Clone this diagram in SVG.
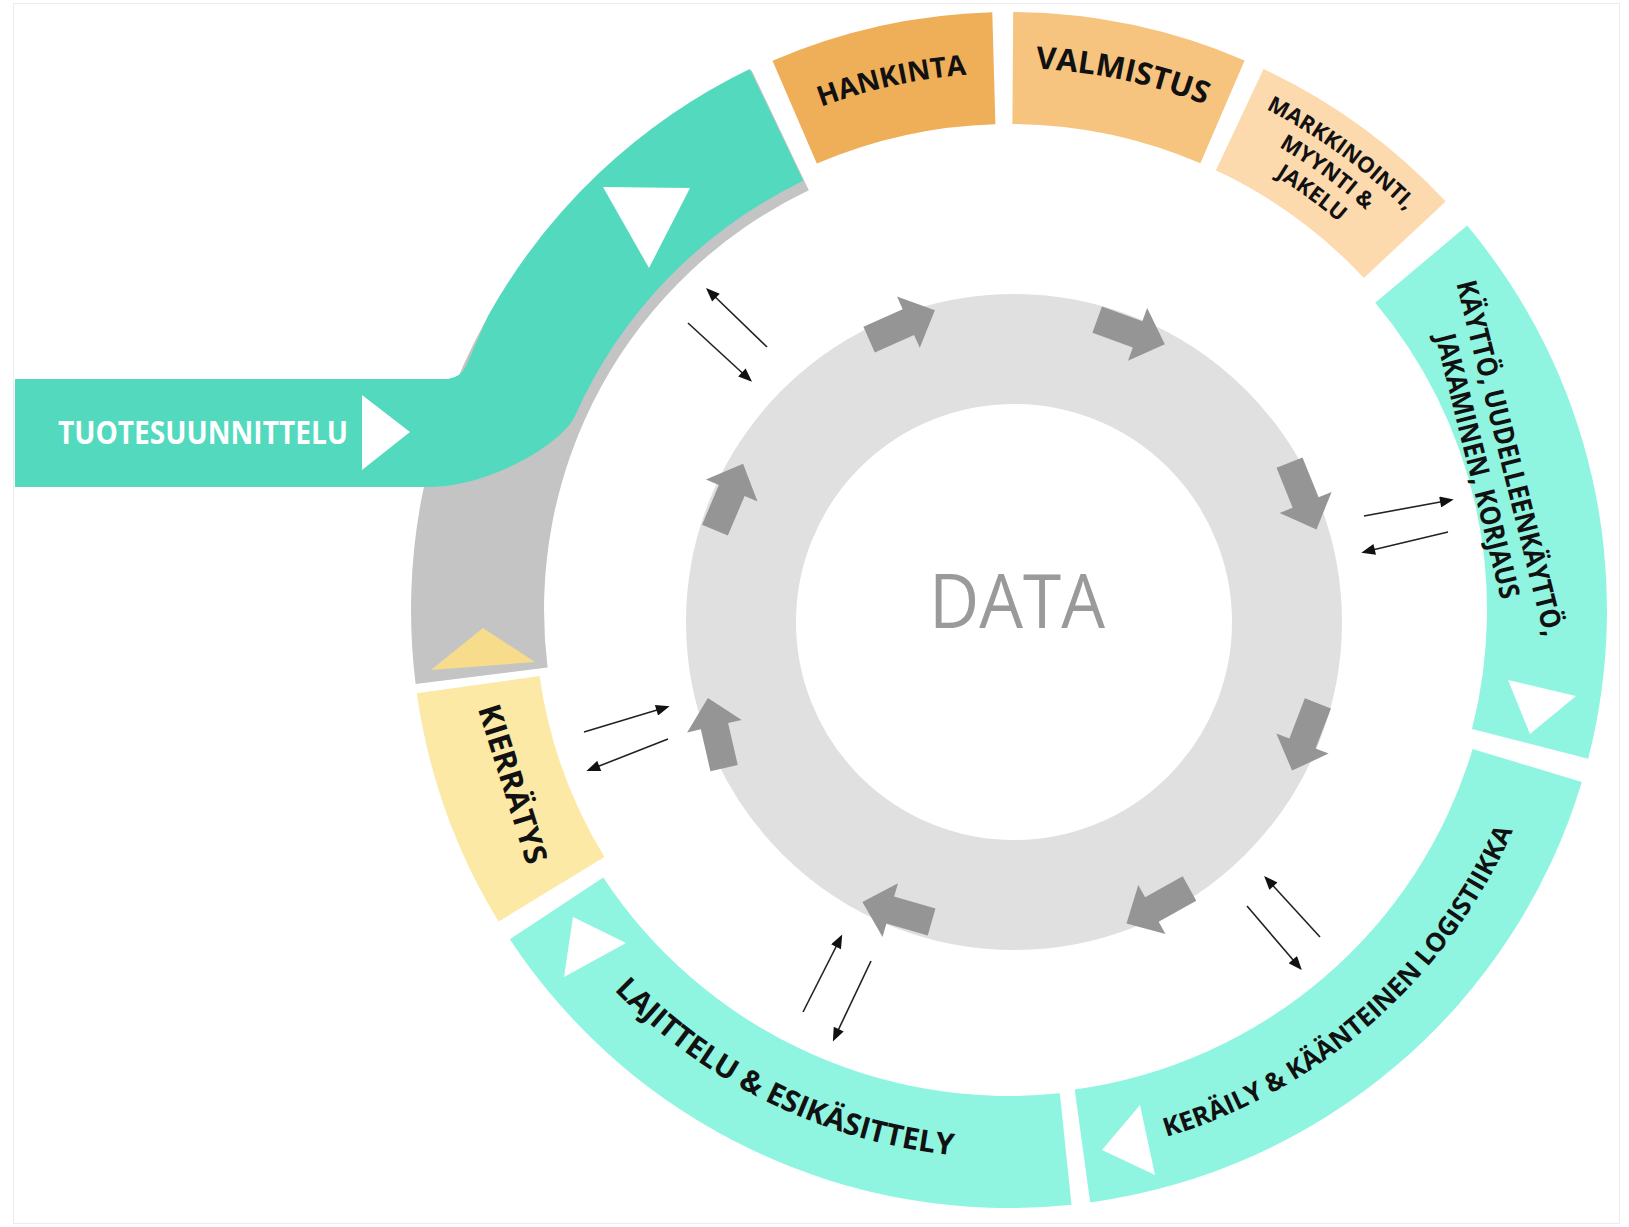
<svg xmlns="http://www.w3.org/2000/svg" width="1629" height="1227" viewBox="0 0 1629 1227">
<defs>
<style>
.lbl{font-family:"Open Sans","Liberation Sans",Arial,sans-serif;font-weight:700;fill:#111}
.aqua{fill:#8FF5E0}
.tri{fill:#fff}
.dbl{fill:none;stroke:#222;stroke-width:1.6;marker-end:url(#ah)}
.flow{fill:#959595}
</style>
<marker id="ah" viewBox="0 0 10 8" refX="8" refY="4" markerWidth="15" markerHeight="11" markerUnits="userSpaceOnUse" orient="auto"><path d="M0,0 L10,4 L0,8 z" fill="#111"/></marker>
<polygon id="blk" points="-36,-14 7,-14 7,-28 36,0 7,28 7,14 -36,14"/>
<path id="tp-hank" d="M 790.6,119.4 A 537 537 0 0 1 999.6,73.1"/>
<path id="tp-valm" d="M 1009,68 A 542 542 0 0 1 1229.4,114.9"/>
<path id="tp-mk1" d="M 1154.7,66.2 A 563 563 0 0 1 1481.2,303.4"/>
<path id="tp-mk2" d="M 1147.7,92.3 A 536 536 0 0 1 1458.5,318.1"/>
<path id="tp-mk3" d="M 1140.7,118.3 A 509 509 0 0 1 1435.9,332.8"/>
<path id="tp-ker" d="M 1056.9,1157.9 A 550 550 0 0 0 1547,724.4"/>
<path id="tp-laj" d="M 534.4,884 A 548 548 0 0 0 1085.3,1152.7"/>
</defs>

<rect x="0" y="0" width="1629" height="1227" fill="#ffffff"/>
<rect x="13.5" y="3.5" width="1606" height="1220" fill="none" stroke="#ebebeb" stroke-width="1"/>

<g id="node-data">
<circle cx="1014" cy="622" r="273" fill="none" stroke="#E0E0E0" stroke-width="110"/>
<text x="1017" y="628" text-anchor="middle" font-family="'Open Sans','Liberation Sans',Arial,sans-serif" font-size="75" fill="#9A9A9A" textLength="176" lengthAdjust="spacingAndGlyphs">DATA</text>
</g>

<g id="flow-arrows" class="flow">
<use href="#blk" transform="translate(902,325) rotate(-24)"/>
<use href="#blk" transform="translate(1131,332) rotate(20)"/>
<use href="#blk" transform="translate(1303,496) rotate(68)"/>
<use href="#blk" transform="translate(1305,737) rotate(111)"/>
<use href="#blk" transform="translate(1158,906) rotate(151)"/>
<use href="#blk" transform="translate(897,912) rotate(196)"/>
<use href="#blk" transform="translate(716,733) rotate(257)"/>
<use href="#blk" transform="translate(729,497) rotate(293)"/>
</g>

<g id="return-band">
<path d="M 415.6,683.9 A 598 598 0 0 1 751.6,70.3 L 808.8,190.3 A 465 465 0 0 0 547.6,667.5 Z" fill="#C4C4C4"/>
<polygon points="483,628 535,662 431,670" fill="#F7DC8C"/>
</g>

<g id="node-tuotesuunnittelu">
<path d="M 15,379 L 448,379 Q 461,377 466,366 L 488,316 A 598 598 0 0 1 749.7,68.9 L 803.3,180.7 A 476 476 0 0 0 575,416 C 563,443 490,487 430,487 L 15,487 Z" fill="#52D9BE"/>
<polygon class="tri" points="362,395 410,432 362,470"/>
<polygon class="tri" points="603,187 690,188 649,268"/>
<text x="58" y="444" font-family="'Open Sans','Liberation Sans',Arial,sans-serif" font-weight="700" font-size="33" fill="#fff" textLength="290" lengthAdjust="spacingAndGlyphs">TUOTESUUNNITTELU</text>
</g>

<g id="node-hankinta">
<path d="M 772.5,60.7 A 598 598 0 0 1 992.3,12.2 L 995.4,124.2 A 486 486 0 0 0 816.8,163.6 Z" fill="#EFAF58"/>
<text class="lbl" font-size="28"><textPath href="#tp-hank" startOffset="50%" text-anchor="middle">HANKINTA</textPath></text>
</g>

<g id="node-valmistus">
<path d="M 1013.2,12 A 598 598 0 0 1 1244.6,60.4 L 1200.4,163.3 A 486 486 0 0 0 1012.4,124 Z" fill="#F6C47E"/>
<text class="lbl" font-size="31"><textPath href="#tp-valm" startOffset="50%" text-anchor="middle">VALMISTUS</textPath></text>
</g>

<g id="node-markkinointi">
<path d="M 1263.6,68.9 A 598 598 0 0 1 1445.7,201.4 L 1363.9,277.9 A 486 486 0 0 0 1215.9,170.3 Z" fill="#FCDAAE"/>
<text class="lbl" font-size="22"><textPath href="#tp-mk1" startOffset="50%" text-anchor="middle">MARKKINOINTI,</textPath></text>
<text class="lbl" font-size="22"><textPath href="#tp-mk2" startOffset="50%" text-anchor="middle">MYYNTI &amp;</textPath></text>
<text class="lbl" font-size="22"><textPath href="#tp-mk3" startOffset="50%" text-anchor="middle">JAKELU</textPath></text>
</g>

<g id="node-kaytto">
<path class="aqua" d="M 1467.1,225.6 A 598 598 0 0 1 1588.2,758.7 L 1472,728.9 A 478 478 0 0 0 1375.2,302.7 Z"/>
<polygon class="tri" points="1508,680 1576,696 1530,734"/>
<g transform="translate(1494,462) rotate(76)">
<text class="lbl" font-size="28" x="0" y="-6.5" text-anchor="middle" textLength="365" lengthAdjust="spacingAndGlyphs">KÄYTTÖ, UUDELLEENKÄYTTÖ,</text>
<text class="lbl" font-size="28" x="0" y="26.5" text-anchor="middle" textLength="272" lengthAdjust="spacingAndGlyphs">JAKAMINEN, KORJAUS</text>
</g>
</g>

<g id="node-keraily">
<path class="aqua" d="M 1581.8,781.9 A 598 598 0 0 1 1090.2,1202.4 L 1074.7,1089.5 A 484 484 0 0 0 1472.6,749.1 Z"/>
<polygon class="tri" points="1140,1105 1155,1175 1102,1150"/>
<text class="lbl" font-size="26"><textPath href="#tp-ker" startOffset="50%" text-anchor="middle">KERÄILY &amp; KÄÄNTEINEN LOGISTIIKKA</textPath></text>
</g>

<g id="node-lajittelu">
<path class="aqua" d="M 1071.5,1204.7 A 598 598 0 0 1 509.8,939.2 L 603.3,877.5 A 486 486 0 0 0 1059.8,1093.3 Z"/>
<polygon class="tri" points="573,917 626,943 564,977"/>
<text class="lbl" font-size="30"><textPath href="#tp-laj" startOffset="50%" text-anchor="middle">LAJITTELU &amp; ESIKÄSITTELY</textPath></text>
</g>

<g id="node-kierratys">
<path d="M 498.6,921.6 A 598 598 0 0 1 416.8,693.2 L 539.6,676 A 474 474 0 0 0 604.4,857 Z" fill="#FBE9A5"/>
<text class="lbl" font-size="31" transform="translate(513,784) rotate(72.6)" x="0" y="11" text-anchor="middle">KIERRÄTYS</text>
</g>

<g id="connectors">
<line class="dbl" x1="767" y1="347" x2="708" y2="290"/>
<line class="dbl" x1="688" y1="323" x2="750" y2="380"/>
<line class="dbl" x1="1364" y1="516" x2="1451" y2="500"/>
<line class="dbl" x1="1448" y1="532" x2="1364" y2="552"/>
<line class="dbl" x1="584" y1="732" x2="667" y2="707"/>
<line class="dbl" x1="668" y1="739" x2="589" y2="770"/>
<line class="dbl" x1="1320" y1="937" x2="1266" y2="878"/>
<line class="dbl" x1="1247" y1="906" x2="1300" y2="968"/>
<line class="dbl" x1="803" y1="1012" x2="841" y2="937"/>
<line class="dbl" x1="871" y1="961" x2="834" y2="1039"/>
</g>
</svg>
